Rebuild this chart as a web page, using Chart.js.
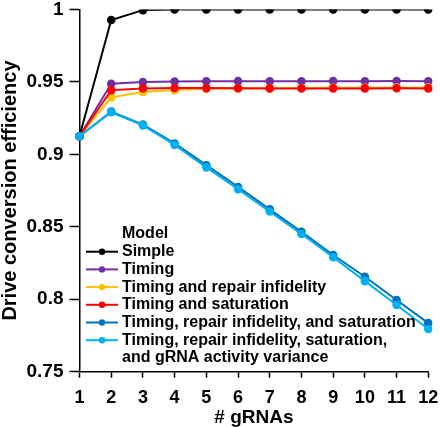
<!DOCTYPE html>
<html>
<head>
<meta charset="utf-8">
<script src="https://cdn.jsdelivr.net/npm/chart.js@4"></script>
<style>
  body { margin: 0; background: #fff; }
  #chart { display: block; }
</style>
</head>
<body>
<canvas id="chart" width="440" height="427"></canvas>
<script>
const gRNAs = ['1', '2', '3', '4', '5', '6', '7', '8', '9', '10', '11', '12'];

const simpleList = [0.9125, 0.9927, 0.9995, 1.0, 1.0, 1.0, 1.0, 1.0, 1.0, 1.0, 1.0, 1.0];
const timingList = [0.9125, 0.9487, 0.9499, 0.9503, 0.9504, 0.9505, 0.9504, 0.9504, 0.9505, 0.9504, 0.9506, 0.9504];
const repairList = [0.9125, 0.9393, 0.9430, 0.9443, 0.9452, 0.9455, 0.9457, 0.9458, 0.9459, 0.9459, 0.9460, 0.9460];
const saturationList = [0.9125, 0.9443, 0.9455, 0.9458, 0.9457, 0.9456, 0.9455, 0.9455, 0.9455, 0.9455, 0.9456, 0.9455];
const repairSatList = [0.9125, 0.9295, 0.9205, 0.9075, 0.8925, 0.8775, 0.8620, 0.8465, 0.8305, 0.8155, 0.7995, 0.7835];
const varianceList = [0.9125, 0.9290, 0.9200, 0.9065, 0.8910, 0.8760, 0.8605, 0.8450, 0.8290, 0.8125, 0.7960, 0.7795];

const seriesNames = [
    'Simple',
    'Timing',
    'Timing and repair infidelity',
    'Timing and saturation',
    'Timing, repair infidelity, and saturation',
    'Timing, repair infidelity, saturation, and gRNA activity variance'
];
const legendLines = [
    ['Simple'],
    ['Timing'],
    ['Timing and repair infidelity'],
    ['Timing and saturation'],
    ['Timing, repair infidelity, and saturation'],
    ['Timing, repair infidelity, saturation,', 'and gRNA activity variance']
];
const seriesColors = ['#000000', '#7030A0', '#FFC000', '#FF0000', '#0070C0', '#00B0F0'];
const seriesData = [simpleList, timingList, repairList, saturationList, repairSatList, varianceList];

const fontFamily = 'Arial, "Liberation Sans", sans-serif';

const datasetList = seriesData.map((values, i) => ({
    label: seriesNames[i],
    data: values,
    borderColor: seriesColors[i],
    backgroundColor: seriesColors[i],
    pointBackgroundColor: seriesColors[i],
    pointBorderColor: seriesColors[i],
    borderWidth: 2,
    pointRadius: 4.3,
    pointBorderWidth: 0,
    tension: 0,
    order: seriesData.length - i
}));

// legend inside the plot, bottom left
const insideLegend = {
    id: 'insideLegend',
    afterDraw(chart) {
        const ctx = chart.ctx;
        const x0 = 86;
        const lineLen = 32;
        const textX = 122;
        let y = 233.5;
        ctx.save();
        ctx.font = 'bold 16px ' + fontFamily;
        ctx.textBaseline = 'middle';
        ctx.textAlign = 'left';
        ctx.fillStyle = '#000';
        ctx.fillText('Model', textX, y);
        y = 251.7;
        legendLines.forEach((lines, i) => {
            ctx.strokeStyle = seriesColors[i];
            ctx.lineWidth = 2;
            ctx.beginPath();
            ctx.moveTo(x0, y);
            ctx.lineTo(x0 + lineLen, y);
            ctx.stroke();
            ctx.fillStyle = seriesColors[i];
            ctx.beginPath();
            ctx.arc(x0 + lineLen / 2, y, 3.2, 0, Math.PI * 2);
            ctx.fill();
            ctx.fillStyle = '#000';
            lines.forEach((line, k) => {
                ctx.fillText(line, textX, y + k * 17);
            });
            y += 17.7 * lines.length;
        });
        ctx.restore();
    }
};

const chart = new Chart(document.getElementById('chart'), {
    type: 'line',
    data: {
        labels: gRNAs,
        datasets: datasetList
    },
    options: {
        responsive: false,
        animation: false,
        devicePixelRatio: 1,
        layout: { autoPadding: false, padding: { top: 9.4, right: 11.7, left: 0, bottom: 0 } },
        plugins: {
            legend: { display: false },
            tooltip: { enabled: false }
        },
        scales: {
            x: {
                type: 'category',
                offset: false,
                afterFit: (scale) => {
                    scale.height = 55.3;
                    scale.paddingLeft = 0;
                    scale.paddingRight = 0;
                },
                border: { color: '#000', width: 1.5 },
                grid: { drawOnChartArea: false, drawTicks: true, tickLength: 6, color: '#000', tickWidth: 1.5 },
                ticks: { color: '#000', padding: 10, maxRotation: 0, autoSkip: false, font: { family: fontFamily, size: 18, weight: 'bold' } },
                title: { display: true, text: '# gRNAs', color: '#000', padding: { top: 0, bottom: -2 }, font: { family: fontFamily, size: 19, weight: 'bold' } }
            },
            y: {
                min: 0.75,
                max: 1,
                afterFit: (scale) => {
                    scale.width = 79.5;
                    scale.paddingTop = 0;
                    scale.paddingBottom = 0;
                },
                border: { color: '#000', width: 1.5 },
                grid: { drawOnChartArea: false, drawTicks: true, tickLength: 10, color: '#000', tickWidth: 1.5 },
                ticks: {
                    stepSize: 0.05,
                    color: '#000',
                    padding: 6,
                    font: { family: fontFamily, size: 19, weight: 'bold' },
                    callback: (v) => String(Math.round(v * 100) / 100)
                },
                title: { display: true, text: 'Drive conversion efficiency', color: '#000', padding: { top: 0, bottom: 0 }, font: { family: fontFamily, size: 20, weight: 'bold', lineHeight: 1 } }
            }
        }
    },
    plugins: [insideLegend]
});
</script>
</body>
</html>
